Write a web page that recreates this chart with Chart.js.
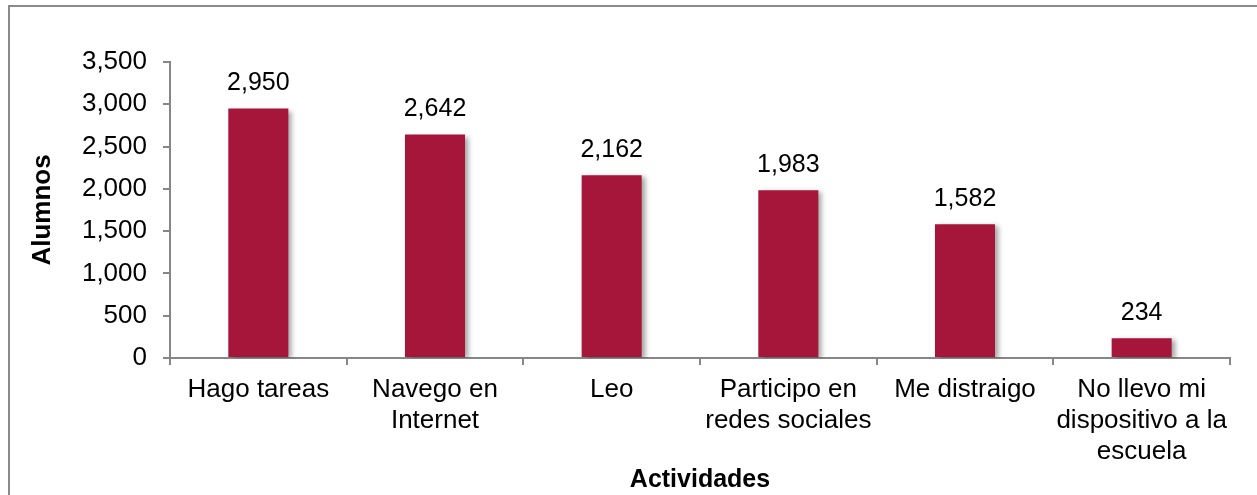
<!DOCTYPE html>
<html>
<head>
<meta charset="utf-8">
<script src="https://cdn.jsdelivr.net/npm/chart.js"></script>
<style>
  body { margin: 0; overflow: hidden; background: #fff; }
  #frame { position: absolute; left: 8px; top: 5px; width: 1400px; height: 700px; border: 2px solid #8a8a8a; }
  #wrap { position: absolute; left: 0; top: 0; width: 1257px; height: 495px; }
</style>
</head>
<body>
<div id="frame"></div>
<div id="wrap"><canvas id="myChart"></canvas></div>
<script>
const categories = [
    ['Hago tareas'],
    ['Navego en', 'Internet'],
    ['Leo'],
    ['Participo en', 'redes sociales'],
    ['Me distraigo'],
    ['No llevo mi', 'dispositivo a la', 'escuela']
]
const alumnos = [2950, 2642, 2162, 1983, 1582, 234]
const yTicks = [0, 500, 1000, 1500, 2000, 2500, 3000, 3500]

const axisGray = '#868686'
const fontFamily = '"Liberation Sans", Arial, sans-serif'

// shadow behind bars + value labels on top
const barExtras = {
    id: 'barExtras',
    beforeDatasetsDraw(chart) {
        const c = chart.ctx
        c.save()
        c.shadowColor = 'rgba(0,0,0,0.35)'
        c.shadowOffsetX = 4
        c.shadowOffsetY = 2
        c.shadowBlur = 5
    },
    afterDatasetsDraw(chart) {
        const c = chart.ctx
        c.restore()
        c.save()
        c.font = '25px ' + fontFamily
        c.fillStyle = '#000'
        c.textAlign = 'center'
        c.textBaseline = 'middle'
        chart.getDatasetMeta(0).data.forEach((bar, i) => {
            c.fillText(alumnos[i].toLocaleString('en-US'), bar.x, bar.y - 25)
        })
        c.restore()
    }
}

let ctx = document.getElementById('myChart')

new Chart(ctx, {
    type: 'bar',
    data: {
        labels: categories,
        datasets: [{
            label: 'Alumnos',
            data: alumnos,
            backgroundColor: '#A6163A',
            borderWidth: 0,
            categoryPercentage: 1,
            barPercentage: 0.34
        }]
    },
    plugins: [barExtras],
    options: {
        responsive: true,
        maintainAspectRatio: false,
        animation: false,
        layout: {
            padding: { top: 62, right: 27, bottom: 0, left: 0 }
        },
        plugins: {
            legend: { display: false },
            tooltip: { enabled: false }
        },
        scales: {
            x: {
                afterFit: scale => { scale.height = 137 },
                grid: {
                    offset: true,
                    drawOnChartArea: false,
                    color: axisGray,
                    lineWidth: 2,
                    tickLength: 7
                },
                border: { color: axisGray, width: 2 },
                ticks: {
                    color: '#000',
                    padding: 9,
                    font: { family: fontFamily, size: 26, lineHeight: 1.2 }
                },
                title: {
                    display: true,
                    text: 'Actividades',
                    color: '#000',
                    padding: { top: 0, bottom: 0 },
                    font: { family: fontFamily, size: 25, weight: 'bold', lineHeight: 1.2 }
                }
            },
            y: {
                min: 0,
                max: 3500,
                afterFit: scale => { scale.width = 170 },
                afterBuildTicks: scale => { scale.ticks = yTicks.map(v => ({ value: v })) },
                grid: {
                    drawOnChartArea: false,
                    color: axisGray,
                    lineWidth: 2,
                    tickLength: 7
                },
                border: { color: axisGray, width: 2 },
                ticks: {
                    color: '#000',
                    padding: 16,
                    font: { family: fontFamily, size: 26 },
                    callback: v => v.toLocaleString('en-US')
                },
                title: {
                    display: true,
                    text: 'Alumnos',
                    color: '#000',
                    padding: { top: 27, bottom: 0 },
                    font: { family: fontFamily, size: 26, weight: 'bold', lineHeight: 1.2 }
                }
            }
        }
    }
})
</script>
</body>
</html>
